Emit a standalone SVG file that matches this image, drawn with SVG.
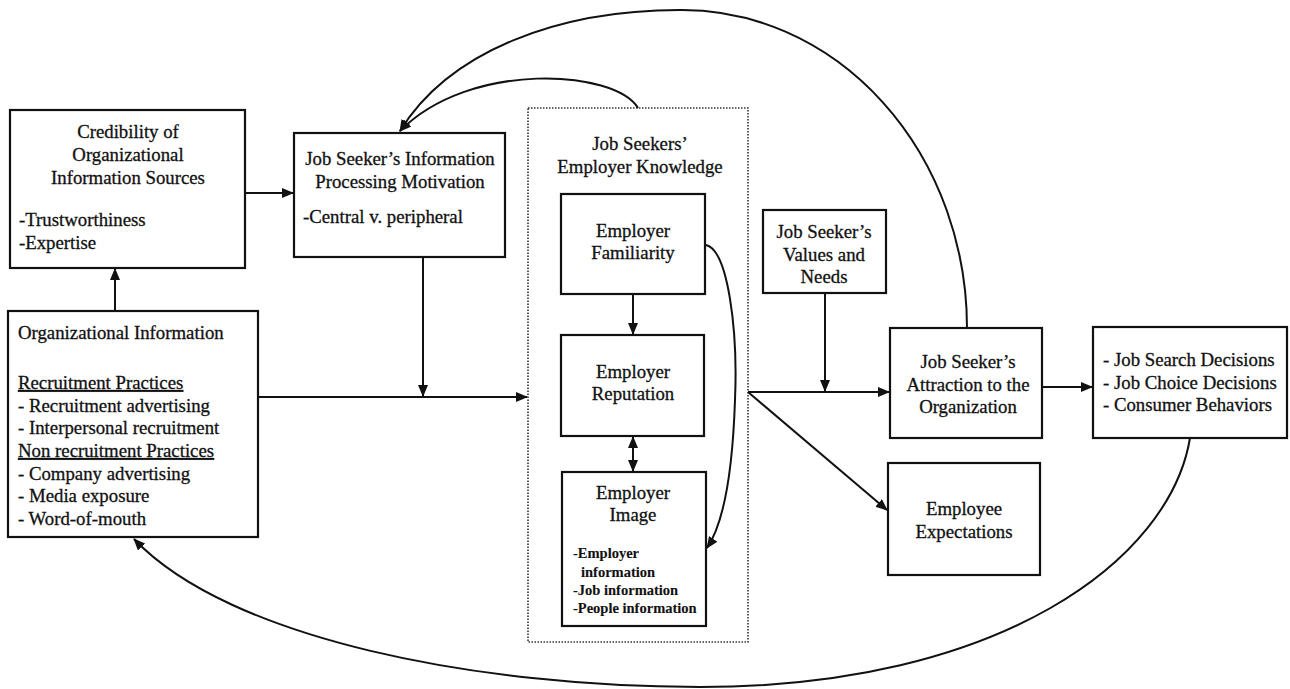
<svg xmlns="http://www.w3.org/2000/svg" width="1290" height="689" viewBox="0 0 1290 689">
  <defs>
    <marker id="ah" viewBox="0 0 12 10" refX="11" refY="5" markerWidth="12" markerHeight="10" markerUnits="userSpaceOnUse" orient="auto-start-reverse">
      <path d="M0,0 L12,5 L0,10 Z" fill="#111"/>
    </marker>
    <style>
      .box { fill: #fff; stroke: #111; stroke-width: 2.2; }
      .group { fill: none; stroke: #333; stroke-width: 1.6; stroke-dasharray: 1.5 1.5; }
      .t { font-family: "Liberation Serif", "Times New Roman", serif; font-size: 18.8px; fill: #111; stroke: #111; stroke-width: 0.3; }
      .c { text-anchor: middle; }
      .s { font-size: 14.5px; font-weight: bold; stroke-width: 0.1; }
      .u { text-decoration: underline; }
      .line { fill: none; stroke: #111; stroke-width: 2; }
    </style>
  </defs>
  <rect width="1290" height="689" fill="#fff"/>

  <!-- container for the knowledge components -->
  <g id="employer-knowledge">
    <rect class="group" x="528" y="108" width="220" height="534"/>
    <text class="t c" x="640" y="150">Job Seekers’</text>
    <text class="t c" x="640" y="173">Employer Knowledge</text>
  </g>

  <g id="credibility">
    <rect class="box" x="10" y="110" width="235" height="158"/>
    <text class="t c" x="128" y="138">Credibility of</text>
    <text class="t c" x="128" y="161">Organizational</text>
    <text class="t c" x="128" y="184">Information Sources</text>
    <text class="t" x="19" y="226">-Trustworthiness</text>
    <text class="t" x="19" y="249">-Expertise</text>
  </g>

  <g id="processing-motivation">
    <rect class="box" x="294" y="133" width="211" height="124"/>
    <text class="t c" x="400" y="165">Job Seeker’s Information</text>
    <text class="t c" x="400" y="188">Processing Motivation</text>
    <text class="t" x="303" y="223">-Central v. peripheral</text>
  </g>

  <g id="organizational-information">
    <rect class="box" x="8" y="311" width="250" height="226"/>
    <text class="t" x="18" y="339">Organizational Information</text>
    <text class="t u" x="18" y="389">Recruitment Practices</text>
    <text class="t" x="18" y="412">- Recruitment advertising</text>
    <text class="t" x="18" y="434">- Interpersonal recruitment</text>
    <text class="t u" x="18" y="457">Non recruitment Practices</text>
    <text class="t" x="18" y="480">- Company advertising</text>
    <text class="t" x="18" y="502">- Media exposure</text>
    <text class="t" x="18" y="525">- Word-of-mouth</text>
  </g>

  <g id="familiarity">
    <rect class="box" x="561" y="194" width="144" height="100"/>
    <text class="t c" x="633" y="237">Employer</text>
    <text class="t c" x="633" y="259">Familiarity</text>
  </g>

  <g id="reputation">
    <rect class="box" x="561" y="335" width="143" height="101"/>
    <text class="t c" x="633" y="378">Employer</text>
    <text class="t c" x="633" y="400">Reputation</text>
  </g>

  <g id="image">
    <rect class="box" x="562" y="472" width="144" height="154"/>
    <text class="t c" x="633" y="499">Employer</text>
    <text class="t c" x="633" y="521">Image</text>
    <text class="t s" x="573" y="558">-Employer</text>
    <text class="t s" x="581" y="577">information</text>
    <text class="t s" x="573" y="595">-Job information</text>
    <text class="t s" x="573" y="613">-People information</text>
  </g>

  <g id="values-needs">
    <rect class="box" x="763" y="210" width="123" height="83"/>
    <text class="t c" x="824" y="238">Job Seeker’s</text>
    <text class="t c" x="824" y="261">Values and</text>
    <text class="t c" x="824" y="283">Needs</text>
  </g>

  <g id="attraction">
    <rect class="box" x="890" y="328" width="152" height="110"/>
    <text class="t c" x="968" y="368">Job Seeker’s</text>
    <text class="t c" x="968" y="391">Attraction to the</text>
    <text class="t c" x="968" y="413">Organization</text>
  </g>

  <g id="expectations">
    <rect class="box" x="888" y="463" width="152" height="112"/>
    <text class="t c" x="964" y="515">Employee</text>
    <text class="t c" x="964" y="538">Expectations</text>
  </g>

  <g id="outcomes">
    <rect class="box" x="1093" y="327" width="194" height="111"/>
    <text class="t" x="1103" y="366">- Job Search Decisions</text>
    <text class="t" x="1103" y="389">- Job Choice Decisions</text>
    <text class="t" x="1103" y="411">- Consumer Behaviors</text>
  </g>

  <g id="connectors">
    <path class="line" d="M245,193 L293,193" marker-end="url(#ah)"/>
    <path class="line" d="M115,311 L115,269" marker-end="url(#ah)"/>
    <path class="line" d="M258,397 L527,397" marker-end="url(#ah)"/>
    <path class="line" d="M423,257 L423,396" marker-end="url(#ah)"/>
    <path class="line" d="M633,294 L633,334" marker-end="url(#ah)"/>
    <path class="line" d="M633,437 L633,471" marker-start="url(#ah)" marker-end="url(#ah)"/>
    <path class="line" d="M706,245 C728,250 738,330 735,400 C733,460 726,520 707,548" marker-end="url(#ah)"/>
    <path class="line" d="M748,392 L889,392" marker-end="url(#ah)"/>
    <path class="line" d="M825,293 L825,391" marker-end="url(#ah)"/>
    <path class="line" d="M748,392 L887,510" marker-end="url(#ah)"/>
    <path class="line" d="M1042,387 L1092,387" marker-end="url(#ah)"/>
    <path class="line" d="M967,328 A285,318 0 0 0 680,10 C560,10 450,50 400,131" marker-end="url(#ah)"/>
    <path class="line" d="M638,108 C615,70 470,60 400,131" marker-end="url(#ah)"/>
    <path class="line" d="M1190,438 C1170,560 1000,687 700,687 C480,687 230,640 134,539" marker-end="url(#ah)"/>
  </g>
</svg>
